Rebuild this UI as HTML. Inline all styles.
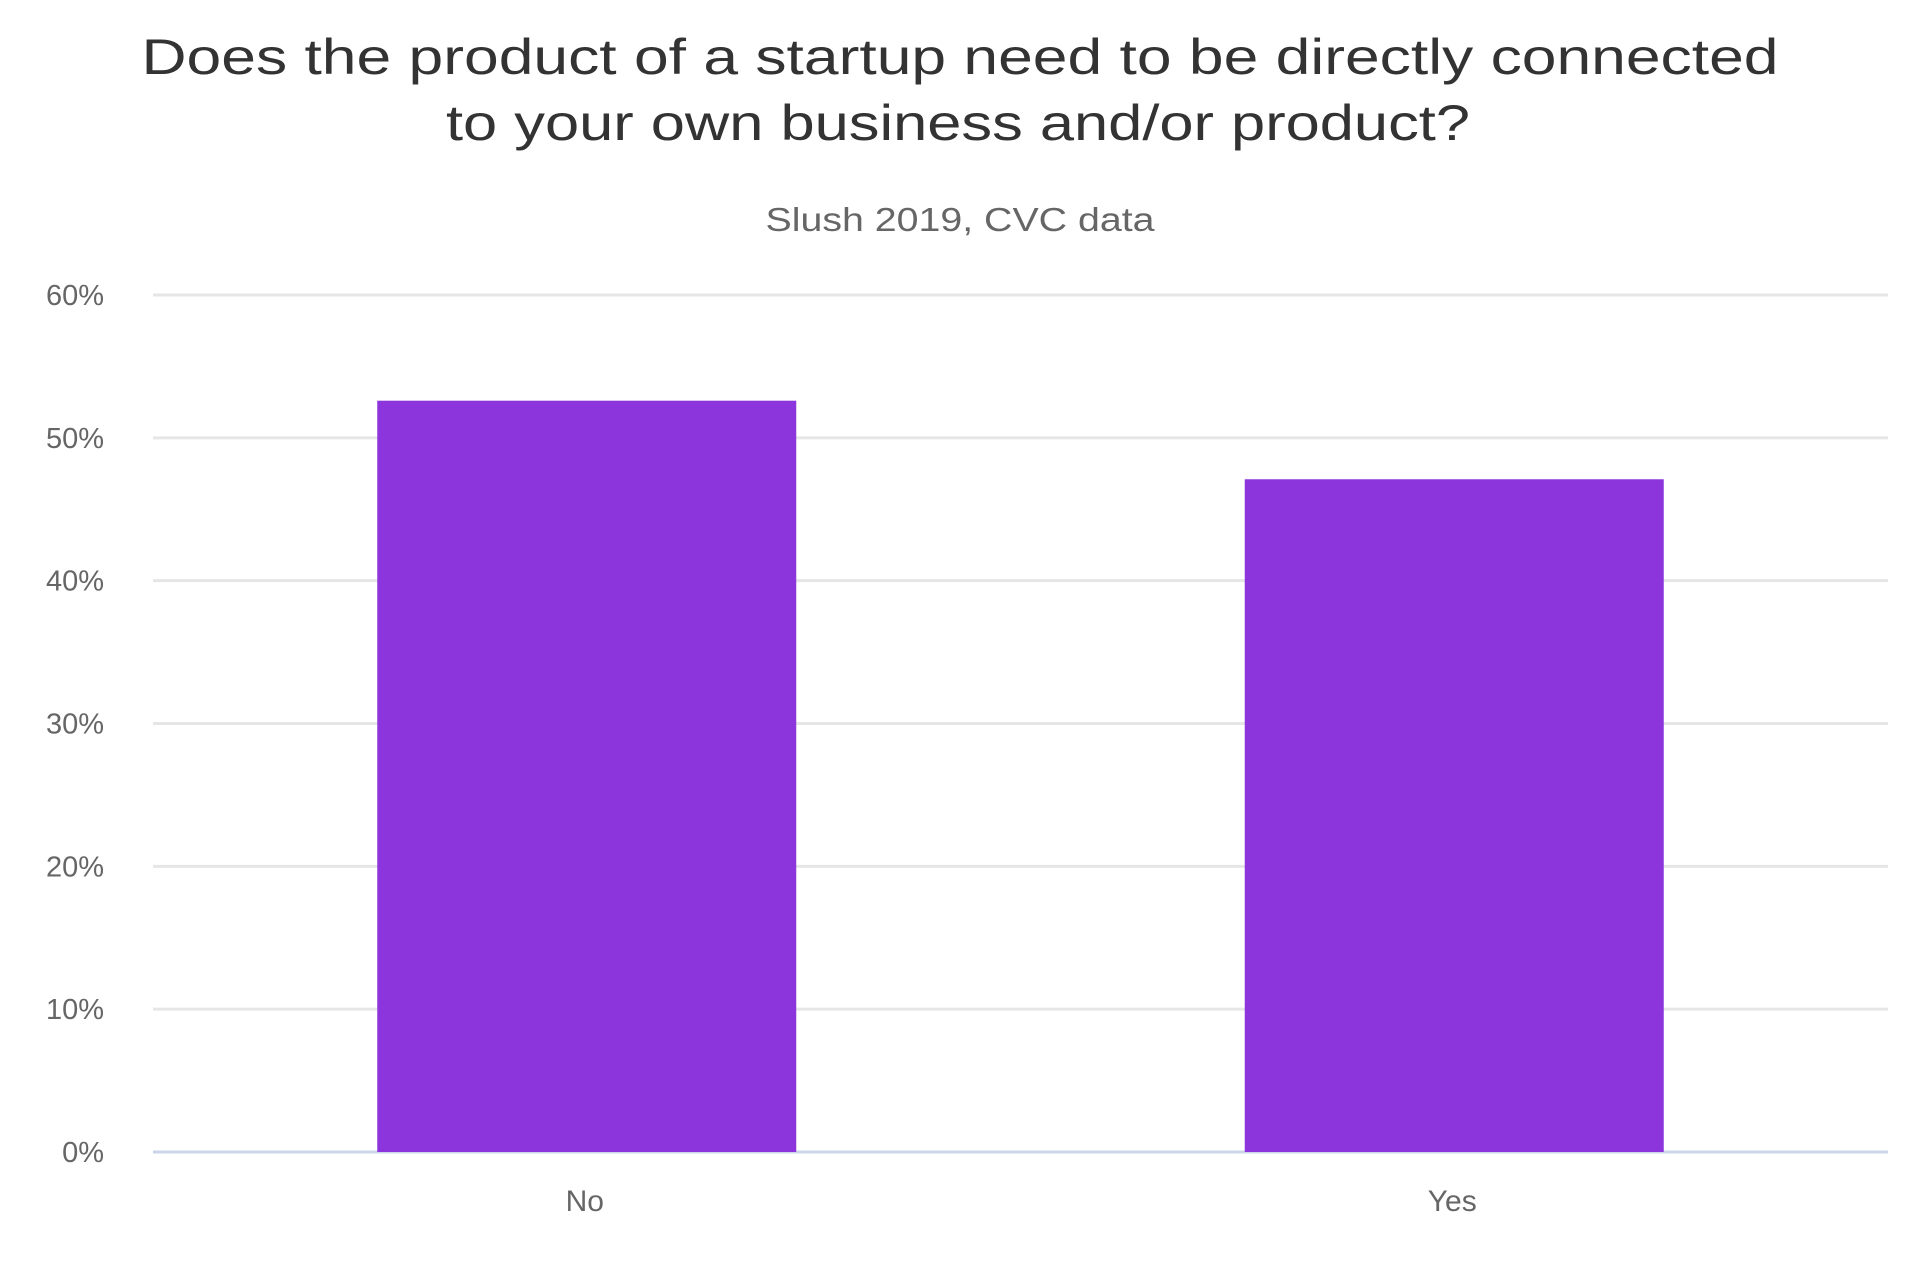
<!DOCTYPE html>
<html><head><meta charset="utf-8"><style>
html,body{margin:0;padding:0;background:#fff;}
svg{display:block;font-family:"Liberation Sans",sans-serif;}
</style></head><body>
<svg id="chart" width="1920" height="1280" viewBox="0 0 1920 1280">
<text x="960" y="74" text-anchor="middle" font-size="50" fill="#333" textLength="1637" lengthAdjust="spacingAndGlyphs">Does the product of a startup need to be directly connected</text>
<text x="958" y="140" text-anchor="middle" font-size="50" fill="#333" textLength="1024" lengthAdjust="spacingAndGlyphs">to your own business and/or product?</text>
<text x="960" y="231" text-anchor="middle" font-size="33" fill="#666" textLength="389" lengthAdjust="spacingAndGlyphs">Slush 2019, CVC data</text>
<g id="grid"></g>
<g id="bars"></g>
<g id="labels"></g>
</svg>
<script>
const categories = ["No", "Yes"];
const values = [52.6, 47.1];
const yTicks = [0, 10, 20, 30, 40, 50, 60];
const yTickLabels = ["0%", "10%", "20%", "30%", "40%", "50%", "60%"];

const NS = "http://www.w3.org/2000/svg";
const plotL = 153, plotR = 1888, plotTop = 295, plotBot = 1152, yMax = 60;
const y = v => plotBot - (v / yMax) * (plotBot - plotTop);
const band = (plotR - plotL) / categories.length;
const xCenter = i => plotL + band * (i + 0.5);
const barW = 419;

const grid = document.getElementById("grid");
yTicks.forEach((t, i) => {
  const ln = document.createElementNS(NS, "line");
  ln.setAttribute("x1", plotL); ln.setAttribute("x2", plotR);
  ln.setAttribute("y1", y(t)); ln.setAttribute("y2", y(t));
  ln.setAttribute("stroke", t === 0 ? "#ccd6eb" : "#e6e6e6");
  ln.setAttribute("stroke-width", 3);
  
  
  grid.appendChild(ln);
  const tx = document.createElementNS(NS, "text");
  tx.setAttribute("x", 104); tx.setAttribute("y", y(t) + 10);
  tx.setAttribute("text-anchor", "end");
  tx.setAttribute("font-size", 29); tx.setAttribute("fill", "#666");
  tx.textContent = yTickLabels[i];
  
  
  grid.appendChild(tx);
});

const bars = document.getElementById("bars");
const labels = document.getElementById("labels");
categories.forEach((c, i) => {
  const r = document.createElementNS(NS, "rect");
  r.setAttribute("x", xCenter(i) - barW / 2);
  r.setAttribute("y", y(values[i]));
  r.setAttribute("width", barW);
  r.setAttribute("height", plotBot - y(values[i]));
  r.setAttribute("fill", "#8c35dc");
  
  
  bars.appendChild(r);
  const tx = document.createElementNS(NS, "text");
  tx.setAttribute("x", xCenter(i) - 2); tx.setAttribute("y", 1211);
  tx.setAttribute("text-anchor", "middle");
  tx.setAttribute("font-size", 30); tx.setAttribute("fill", "#666");
  tx.textContent = c;
  
  
  labels.appendChild(tx);
});
</script>
</body></html>
